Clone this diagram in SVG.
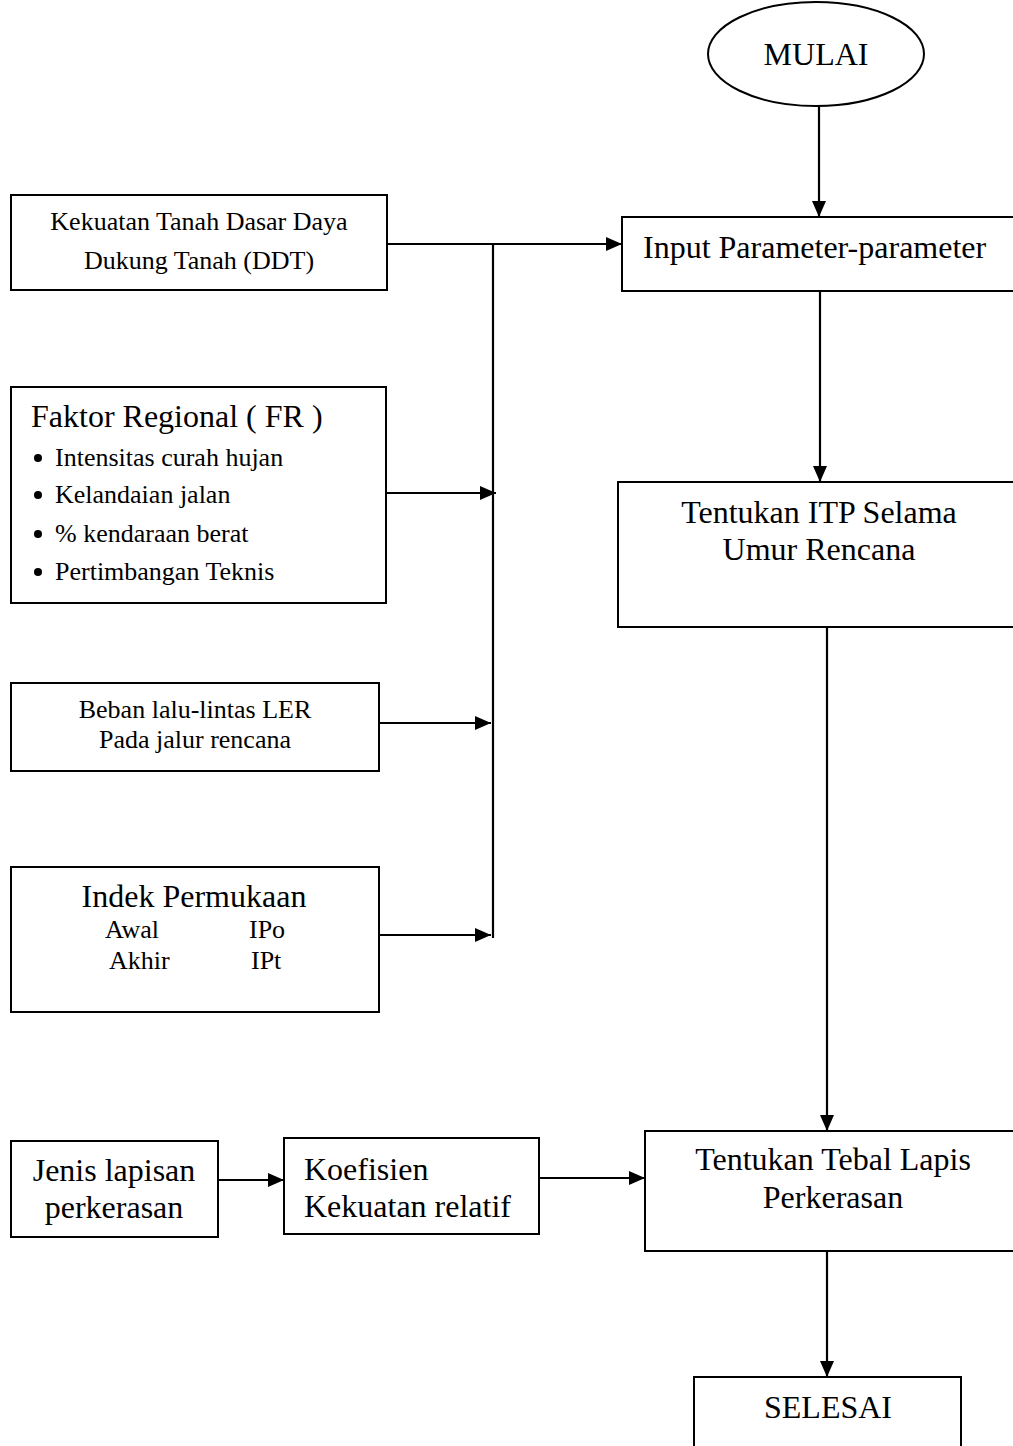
<svg xmlns="http://www.w3.org/2000/svg" width="1013" height="1446" viewBox="0 0 1013 1446">
<style>
.box{fill:#fff;stroke:#000;stroke-width:2}
.t{font-family:"Liberation Serif","Times New Roman",serif;fill:#000}
.big{font-size:32px}
.sm{font-size:26px}
.c{text-anchor:middle}
.ln{fill:none;stroke:#000;stroke-width:2.2}
</style>
<defs>
<marker id="ah" markerWidth="16" markerHeight="14" refX="16" refY="7" orient="auto" markerUnits="userSpaceOnUse">
<path d="M0,0 L16,7 L0,14 Z" fill="#000"/>
</marker>
</defs>
<rect width="1013" height="1446" fill="#fff"/>
<g id="connectors">
<line class="ln" x1="819" y1="106" x2="819" y2="217" marker-end="url(#ah)"/>
<line class="ln" x1="820" y1="291" x2="820" y2="482" marker-end="url(#ah)"/>
<line class="ln" x1="827" y1="627" x2="827" y2="1131" marker-end="url(#ah)"/>
<line class="ln" x1="827" y1="1251" x2="827" y2="1377" marker-end="url(#ah)"/>
<line class="ln" x1="387" y1="244" x2="622" y2="244" marker-end="url(#ah)"/>
<line class="ln" x1="493" y1="244" x2="493" y2="938"/>
<line class="ln" x1="386" y1="493" x2="496" y2="493" marker-end="url(#ah)"/>
<line class="ln" x1="379" y1="723" x2="491" y2="723" marker-end="url(#ah)"/>
<line class="ln" x1="379" y1="935" x2="491" y2="935" marker-end="url(#ah)"/>
<line class="ln" x1="218" y1="1180" x2="284" y2="1180" marker-end="url(#ah)"/>
<line class="ln" x1="539" y1="1178" x2="645" y2="1178" marker-end="url(#ah)"/>
</g>
<g id="mulai">
<ellipse class="box" cx="816" cy="54" rx="108" ry="52"/>
<text class="t big c" x="816" y="65">MULAI</text>
</g>
<g id="input">
<rect class="box" x="622" y="217" width="400" height="74"/>
<text class="t big" x="643" y="258">Input Parameter-parameter</text>
</g>
<g id="itp">
<rect class="box" x="618" y="482" width="404" height="145"/>
<text class="t big c" x="819" y="523">Tentukan ITP Selama</text>
<text class="t big c" x="819" y="560">Umur Rencana</text>
</g>
<g id="tebal">
<rect class="box" x="645" y="1131" width="377" height="120"/>
<text class="t big c" x="833" y="1170">Tentukan Tebal Lapis</text>
<text class="t big c" x="833" y="1208">Perkerasan</text>
</g>
<g id="selesai">
<rect class="box" x="694" y="1377" width="267" height="80"/>
<text class="t big c" x="828" y="1418">SELESAI</text>
</g>
<g id="ddt">
<rect class="box" x="11" y="195" width="376" height="95"/>
<text class="t sm c" x="199" y="230">Kekuatan Tanah Dasar Daya</text>
<text class="t sm c" x="199" y="269">Dukung Tanah (DDT)</text>
</g>
<g id="fr">
<rect class="box" x="11" y="387" width="375" height="216"/>
<text class="t big" x="31" y="427">Faktor Regional ( FR )</text>
<circle cx="38" cy="458" r="4"/>
<text class="t sm" x="55" y="466">Intensitas curah hujan</text>
<circle cx="38" cy="495" r="4"/>
<text class="t sm" x="55" y="503">Kelandaian jalan</text>
<circle cx="38" cy="534" r="4"/>
<text class="t sm" x="55" y="542">% kendaraan berat</text>
<circle cx="38" cy="572" r="4"/>
<text class="t sm" x="55" y="580">Pertimbangan Teknis</text>
</g>
<g id="beban">
<rect class="box" x="11" y="683" width="368" height="88"/>
<text class="t sm c" x="195" y="718">Beban lalu-lintas LER</text>
<text class="t sm c" x="195" y="748">Pada jalur rencana</text>
</g>
<g id="indek">
<rect class="box" x="11" y="867" width="368" height="145"/>
<text class="t big c" x="194" y="907">Indek Permukaan</text>
<text class="t sm" x="105" y="938">Awal</text>
<text class="t sm" x="249" y="938">IPo</text>
<text class="t sm" x="109" y="969">Akhir</text>
<text class="t sm" x="251" y="969">IPt</text>
</g>
<g id="jenis">
<rect class="box" x="11" y="1141" width="207" height="96"/>
<text class="t big c" x="114" y="1181">Jenis lapisan</text>
<text class="t big c" x="114" y="1218">perkerasan</text>
</g>
<g id="koefisien">
<rect class="box" x="284" y="1138" width="255" height="96"/>
<text class="t big" x="304" y="1180">Koefisien</text>
<text class="t big" x="304" y="1217">Kekuatan relatif</text>
</g>
</svg>
